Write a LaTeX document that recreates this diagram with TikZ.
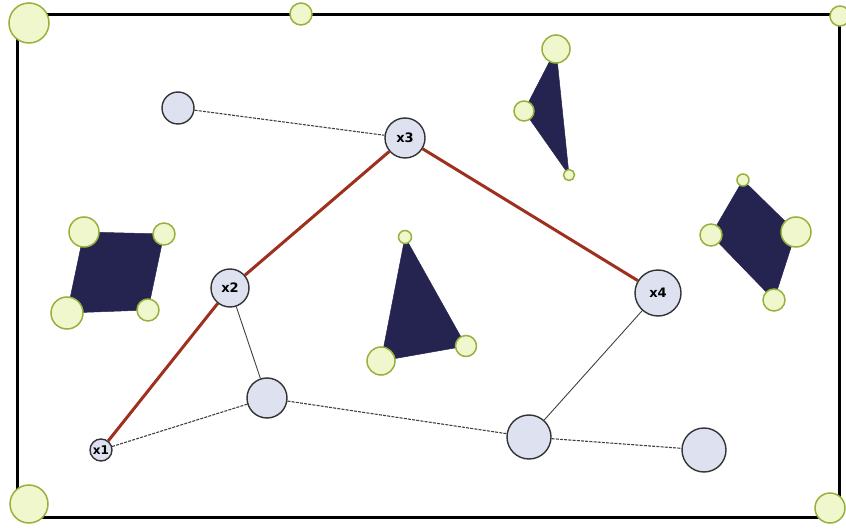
\documentclass[tikz,border=0pt]{standalone}
\usepackage{fontspec}
\newfontfamily\hubfont{DejaVu Sans}
\usepackage{tikz}
\usetikzlibrary{positioning}

\definecolor{hubfill}{RGB}{222,226,240}
\definecolor{knobfill}{RGB}{240,247,205}
\definecolor{knobline}{RGB}{150,178,60}
\definecolor{obst}{RGB}{37,36,80}
\definecolor{routecol}{RGB}{160,48,30}

\begin{document}
\begin{tikzpicture}[x=1pt, y=-1pt,
  hub/.style={circle, draw=black!80, line width=1.4pt, fill=hubfill,
    inner sep=0pt, font=\hubfont\bfseries\fontsize{13}{13}\selectfont},
  knob/.style={circle, draw=knobline, line width=1.5pt, fill=knobfill, inner sep=0pt},
  link/.style={black!75, line width=1.1pt, dash pattern=on 3pt off 1.2pt},
  plain/.style={black!75, line width=0.9pt},
  route/.style={routecol, line width=3pt},
  obstacle/.style={fill=obst, draw=obst, line width=0.5pt}
]
  \useasboundingbox (0,0) rectangle (846,529);

  % --- Cadre ---
  \draw[line width=3pt] (17,15) rectangle (839,517);
  \node[knob, minimum size=40pt] (c1) at (29,23)  {};
  \node[knob, minimum size=22pt] (c2) at (301,14) {};
  \node[knob, minimum size=20pt] (c3) at (840,16) {};
  \node[knob, minimum size=38pt] (c4) at (29,504) {};
  \node[knob, minimum size=30pt] (c5) at (830,508) {};

  % --- Obstacles ---
  % parallelogramme gauche
  \coordinate (pa) at (84,232);  \coordinate (pb) at (164,234);
  \coordinate (pc) at (148,310); \coordinate (pd) at (67,313);
  \fill[obstacle] (pa) -- (pb) -- (pc) -- (pd) -- cycle;
  \node[knob, minimum size=30pt] at (pa) {};
  \node[knob, minimum size=22pt] at (pb) {};
  \node[knob, minimum size=22pt] at (pc) {};
  \node[knob, minimum size=32pt] at (pd) {};

  % triangle haut
  \coordinate (ta) at (556,49); \coordinate (tb) at (524,111); \coordinate (tc) at (569,175);
  \fill[obstacle] (ta) -- (tb) -- (tc) -- cycle;
  \node[knob, minimum size=28pt] at (ta) {};
  \node[knob, minimum size=20pt] at (tb) {};
  \node[knob, minimum size=11pt] at (tc) {};

  % triangle central
  \coordinate (ma) at (405,237); \coordinate (mb) at (381,361); \coordinate (mc) at (466,346);
  \fill[obstacle] (ma) -- (mb) -- (mc) -- cycle;
  \node[knob, minimum size=13pt] at (ma) {};
  \node[knob, minimum size=28pt] at (mb) {};
  \node[knob, minimum size=21pt] at (mc) {};

  % losange droit
  \coordinate (ra) at (743,180); \coordinate (rb) at (796,232);
  \coordinate (rc) at (774,300); \coordinate (rd) at (711,235);
  \fill[obstacle] (ra) -- (rb) -- (rc) -- (rd) -- cycle;
  \node[knob, minimum size=12pt] at (ra) {};
  \node[knob, minimum size=30pt] at (rb) {};
  \node[knob, minimum size=22pt] at (rc) {};
  \node[knob, minimum size=22pt] at (rd) {};

  % --- Graphe ---
  \node[hub, minimum size=32pt] (n0) at (178,108) {};
  \node[hub, minimum size=40pt] (x3) at (405,138) {x3};
  \node[hub, minimum size=38pt] (x2) at (230,288) {x2};
  \node[hub, minimum size=46pt] (x4) at (658,293) {x4};
  \node[hub, minimum size=22pt, font=\hubfont\bfseries\fontsize{12}{12}\selectfont] (x1) at (101,450) {x1};
  \node[hub, minimum size=40pt] (n5) at (267,398) {};
  \node[hub, minimum size=44pt] (n6) at (529,437) {};
  \node[hub, minimum size=44pt] (n7) at (704,450) {};

  \draw[link] (n0) -- (x3);
  \draw[link] (x1) -- (n5);
  \draw[link] (n5) -- (n6);
  \draw[link] (n6) -- (n7);
  \draw[plain] (x2) -- (n5);
  \draw[plain] (n6) -- (x4);

  % chemin retenu
  \draw[route] (x1) -- (x2);
  \draw[route] (x2) -- (x3);
  \draw[route] (x3) -- (x4);
\end{tikzpicture}
\end{document}
